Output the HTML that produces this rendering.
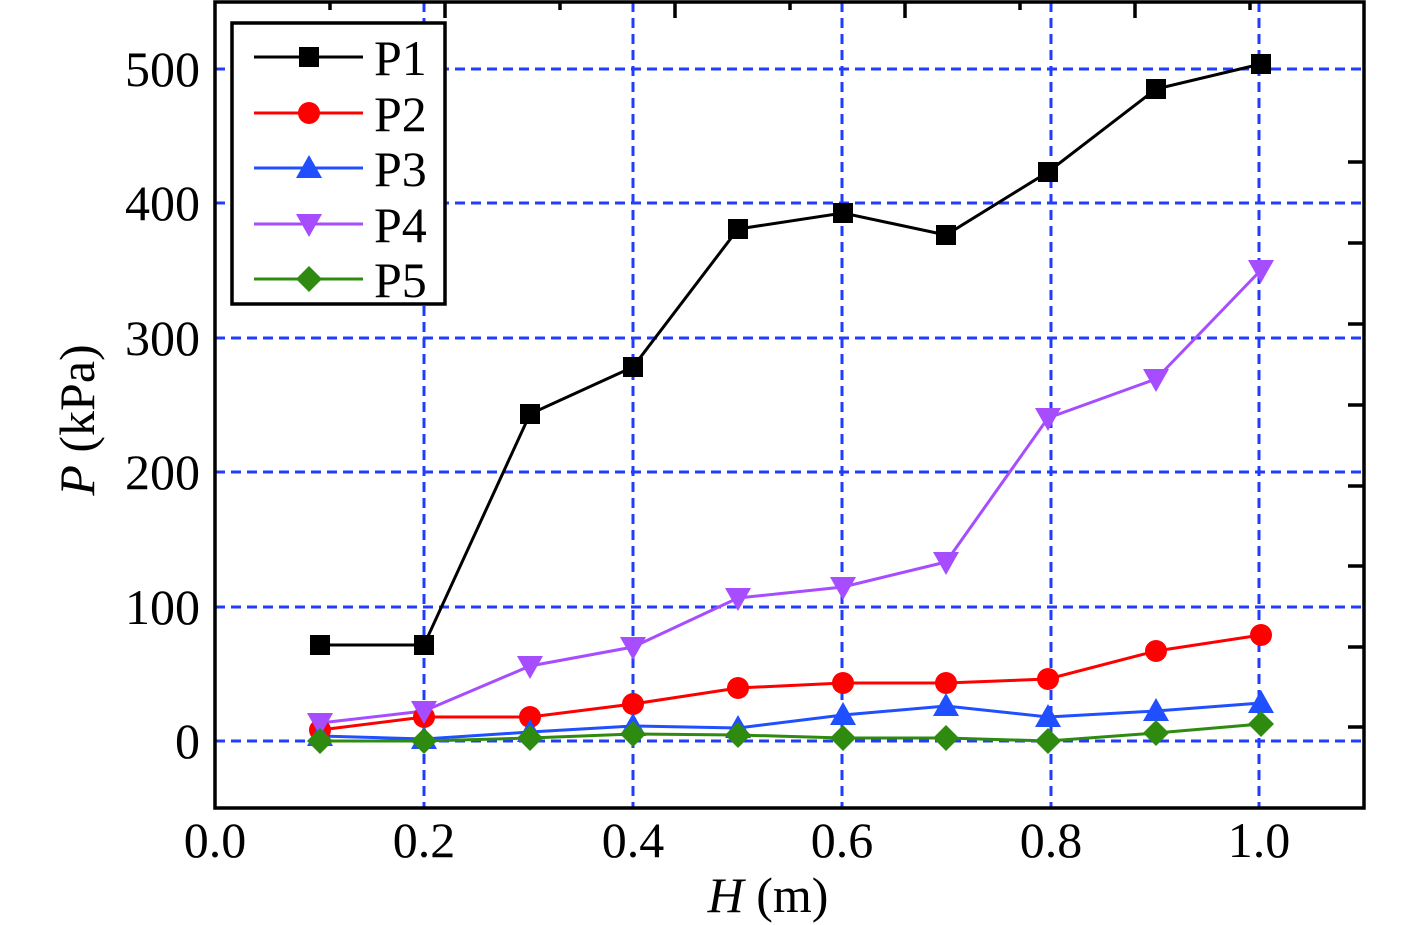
<!DOCTYPE html><html><head><style>body{margin:0;background:#fff}svg{display:block}text{font-family:"Liberation Serif",serif;fill:#000}</style></head><body>
<svg width="1418" height="925" xmlns="http://www.w3.org/2000/svg">
<g stroke="#1f3cff" stroke-width="3" stroke-dasharray="10,6">
<line x1="424" y1="2" x2="424" y2="808"/><line x1="633" y1="2" x2="633" y2="808"/><line x1="842" y1="2" x2="842" y2="808"/><line x1="1051" y1="2" x2="1051" y2="808"/><line x1="1259" y1="2" x2="1259" y2="808"/>
<line x1="215" y1="69" x2="1364" y2="69"/><line x1="215" y1="203" x2="1364" y2="203"/><line x1="215" y1="338" x2="1364" y2="338"/><line x1="215" y1="472" x2="1364" y2="472"/><line x1="215" y1="607" x2="1364" y2="607"/><line x1="215" y1="741" x2="1364" y2="741"/>
</g>
<rect x="215" y="2" width="1149" height="806" fill="none" stroke="#000" stroke-width="3.5"/>
<g stroke="#000" stroke-width="3.5">
<line x1="1364" y1="162" x2="1348" y2="162"/><line x1="1364" y1="243" x2="1348" y2="243"/><line x1="1364" y1="324" x2="1348" y2="324"/><line x1="1364" y1="405" x2="1348" y2="405"/><line x1="1364" y1="486" x2="1348" y2="486"/><line x1="1364" y1="566" x2="1348" y2="566"/><line x1="1364" y1="647" x2="1348" y2="647"/><line x1="1364" y1="727" x2="1348" y2="727"/>
<line x1="330" y1="2" x2="330" y2="10"/><line x1="445" y1="2" x2="445" y2="18"/><line x1="560" y1="2" x2="560" y2="10"/><line x1="675" y1="2" x2="675" y2="18"/><line x1="790" y1="2" x2="790" y2="10"/><line x1="905" y1="2" x2="905" y2="18"/><line x1="1020" y1="2" x2="1020" y2="10"/><line x1="1135" y1="2" x2="1135" y2="18"/><line x1="1250" y1="2" x2="1250" y2="10"/>
</g>
<g font-size="50" text-anchor="end">
<text x="200" y="86">500</text><text x="200" y="220">400</text><text x="200" y="355">300</text><text x="200" y="489">200</text><text x="200" y="624">100</text><text x="200" y="758">0</text>
</g>
<g font-size="50" text-anchor="middle">
<text x="215" y="857">0.0</text><text x="424" y="857">0.2</text><text x="633" y="857">0.4</text><text x="842" y="857">0.6</text><text x="1051" y="857">0.8</text><text x="1259" y="857">1.0</text>
<text x="768" y="912"><tspan font-style="italic">H</tspan> (m)</text>
<text transform="translate(94,420) rotate(-90)"><tspan font-style="italic">P</tspan> (kPa)</text>
</g>
<defs>
<rect id="sq" x="-10" y="-10" width="20" height="20" fill="#000"/>
<circle id="ci" r="11" fill="#ff0000"/>
<polygon id="tu" points="0,-13 13,10 -13,10" fill="#1f4fff"/>
<polygon id="td" points="0,13 13,-10 -13,-10" fill="#a64dff"/>
<polygon id="di" points="0,-13 13,0 0,13 -13,0" fill="#2e8b0f"/>
</defs>
<g fill="none" stroke-width="3">
<polyline stroke="#000" points="320,645 424,645 530,414 633,367 738,229 843,213 946,235 1048,172 1156,89 1261,64"/>
<polyline stroke="#ff0000" points="320,730 424,717 530,717 633,704 738,688 843,683 946,683 1048,679 1156,651 1261,635"/>
<polyline stroke="#1f4fff" points="320,736 424,739 530,732 633,726 738,728 843,715 946,706 1048,717 1156,711 1261,703"/>
<polyline stroke="#a64dff" points="320,723 424,711 530,666 633,647 738,598 843,587 946,562 1048,418 1156,379 1261,270"/>
<polyline stroke="#2e8b0f" points="320,741 424,741 530,738 633,734 738,735 843,738 946,738 1048,741 1156,733 1261,724"/>
</g>
<g>
<use href="#sq" x="320" y="645"/><use href="#sq" x="424" y="645"/><use href="#sq" x="530" y="414"/><use href="#sq" x="633" y="367"/><use href="#sq" x="738" y="229"/><use href="#sq" x="843" y="213"/><use href="#sq" x="946" y="235"/><use href="#sq" x="1048" y="172"/><use href="#sq" x="1156" y="89"/><use href="#sq" x="1261" y="64"/>
<use href="#ci" x="320" y="730"/><use href="#ci" x="424" y="717"/><use href="#ci" x="530" y="717"/><use href="#ci" x="633" y="704"/><use href="#ci" x="738" y="688"/><use href="#ci" x="843" y="683"/><use href="#ci" x="946" y="683"/><use href="#ci" x="1048" y="679"/><use href="#ci" x="1156" y="651"/><use href="#ci" x="1261" y="635"/>
<use href="#tu" x="320" y="736"/><use href="#tu" x="424" y="739"/><use href="#tu" x="530" y="732"/><use href="#tu" x="633" y="726"/><use href="#tu" x="738" y="728"/><use href="#tu" x="843" y="715"/><use href="#tu" x="946" y="706"/><use href="#tu" x="1048" y="717"/><use href="#tu" x="1156" y="711"/><use href="#tu" x="1261" y="703"/>
<use href="#td" x="320" y="723"/><use href="#td" x="424" y="711"/><use href="#td" x="530" y="666"/><use href="#td" x="633" y="647"/><use href="#td" x="738" y="598"/><use href="#td" x="843" y="587"/><use href="#td" x="946" y="562"/><use href="#td" x="1048" y="418"/><use href="#td" x="1156" y="379"/><use href="#td" x="1261" y="270"/>
<use href="#di" x="320" y="741"/><use href="#di" x="424" y="741"/><use href="#di" x="530" y="738"/><use href="#di" x="633" y="734"/><use href="#di" x="738" y="735"/><use href="#di" x="843" y="738"/><use href="#di" x="946" y="738"/><use href="#di" x="1048" y="741"/><use href="#di" x="1156" y="733"/><use href="#di" x="1261" y="724"/>
</g>
<rect x="232" y="23" width="213" height="281" fill="#fff" stroke="#000" stroke-width="3.5"/>
<g stroke-width="3">
<line x1="254" y1="57" x2="363" y2="57" stroke="#000"/><line x1="254" y1="113" x2="363" y2="113" stroke="#ff0000"/><line x1="254" y1="168" x2="363" y2="168" stroke="#1f4fff"/><line x1="254" y1="224" x2="363" y2="224" stroke="#a64dff"/><line x1="254" y1="279" x2="363" y2="279" stroke="#2e8b0f"/>
</g>
<use href="#sq" x="309" y="57"/><use href="#ci" x="309" y="113"/><use href="#tu" x="309" y="168"/><use href="#td" x="309" y="224"/><use href="#di" x="309" y="279"/>
<g font-size="50"><text x="374" y="75">P1</text><text x="374" y="131">P2</text><text x="374" y="186">P3</text><text x="374" y="242">P4</text><text x="374" y="297">P5</text></g>
</svg></body></html>
